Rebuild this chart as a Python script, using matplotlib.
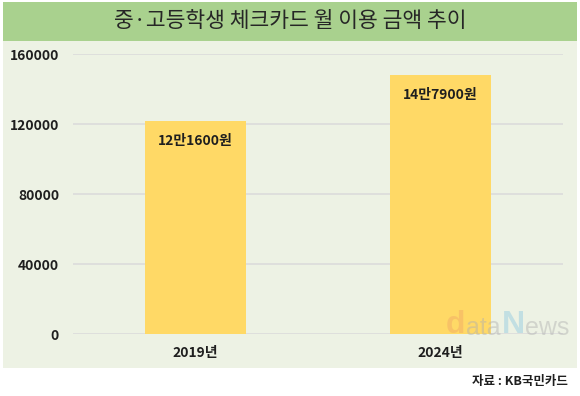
import matplotlib
matplotlib.use("Agg")
import matplotlib.pyplot as plt
from matplotlib.patches import Rectangle

plt.rcParams['font.family'] = ['Noto Sans CJK KR', 'DejaVu Sans']

title = "중·고등학생 체크카드 월 이용 금액 추이"
categories = ["2019년", "2024년"]
values = [121600, 147900]
value_labels = ["12만1600원", "14만7900원"]
yticks = [0, 40000, 80000, 120000, 160000]
source = "자료 : KB국민카드"

W, H = 580, 396
fig = plt.figure(figsize=(5.8, 3.96), dpi=100)
fig.patch.set_facecolor("white")

def px(x0, y0, x1, y1):
    return (x0 / W, 1 - y1 / H, (x1 - x0) / W, (y1 - y0) / H)

# panel background
l, b, w, h = px(3, 41, 577, 368)
fig.patches.append(Rectangle((l, b), w, h, transform=fig.transFigure,
                             facecolor="#EDF2E4", edgecolor="none", zorder=-2))
# title bar
l, b, w, h = px(3, 2, 577, 41)
fig.patches.append(Rectangle((l, b), w, h, transform=fig.transFigure,
                             facecolor="#A9D18E", edgecolor="none", zorder=-1))
fig.text(290 / W, 1 - 21 / H, title, ha="center", va="center",
         fontsize=15.5, color="#262626", fontweight="normal")

ax = fig.add_axes(px(73, 54, 563, 334))
ax.set_facecolor("none")
x = list(range(len(categories)))
ax.bar(x, values, width=0.41, color="#FFD966", zorder=2)
ax.set_xlim(-0.5, 1.5)
ax.set_ylim(0, 160000)
ax.set_yticks(yticks)
ax.set_yticklabels([str(v) for v in yticks])
ax.set_xticks(x)
ax.set_xticklabels(categories)
ax.tick_params(axis="both", length=0, labelsize=10, labelcolor="#1F1F1F")
ax.tick_params(axis="y", pad=10)
ax.tick_params(axis="x", pad=9)
for lab in ax.get_xticklabels() + ax.get_yticklabels():
    lab.set_fontweight("bold")
ax.yaxis.grid(True, color="#DADADA", linewidth=1.1, zorder=1)
ax.set_axisbelow(True)
for s in ax.spines.values():
    s.set_visible(False)

for xi, v, lab in zip(x, values, value_labels):
    ax.annotate(lab, (xi, v), xytext=(0, -14), textcoords="offset points",
                ha="center", va="center", fontsize=10, color="#1F1F1F",
                fontweight="bold", zorder=4)

# watermark
p = fig.text(446 / W, 1 - 333 / H, "d", ha="left", va="baseline", fontsize=23,
             color="#F0A868", alpha=0.45, family="Liberation Sans",
             fontweight="bold", zorder=5)
for t, c, fs, fw in [("ata", "#B0B0B0", 18, "normal"), ("N", "#8EC8E0", 23, "bold"),
                     ("ews", "#B0B0B0", 18, "normal")]:
    ann = matplotlib.text.Annotation(t, xy=(1, 0), xycoords=p, xytext=(0.5, 0),
                                     textcoords="offset points", ha="left", va="bottom",
                                     fontsize=fs, color=c, alpha=0.45,
                                     family="Liberation Sans", fontweight=fw,
                                     annotation_clip=False, zorder=5)
    fig.add_artist(ann)
    p = ann

fig.text(568 / W, 1 - 381 / H, source, ha="right", va="center",
         fontsize=9, color="#1F1F1F", fontweight="bold")

fig.savefig("out.png", dpi=100, facecolor=fig.get_facecolor())
